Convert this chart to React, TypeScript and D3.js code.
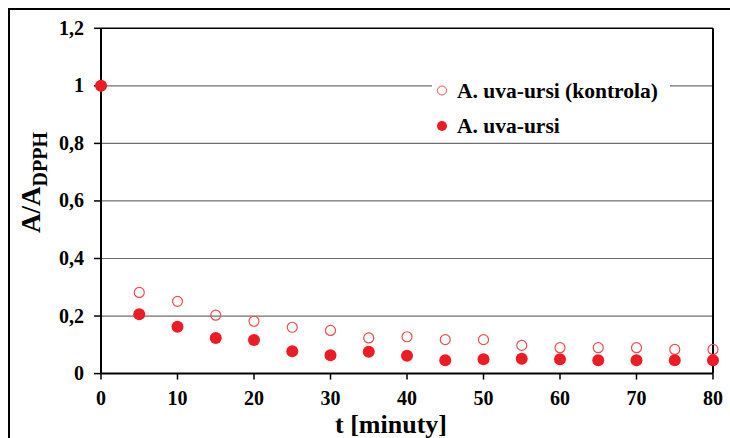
import React from "react";
import * as d3 from "d3";

const times = [0, 5, 10, 15, 20, 25, 30, 35, 40, 45, 50, 55, 60, 65, 70, 75, 80];
const kontrola = [1.0, 0.282, 0.251, 0.203, 0.182, 0.161, 0.150, 0.124, 0.128, 0.118, 0.118, 0.098, 0.090, 0.090, 0.090, 0.084, 0.084];
const uvaUrsi = [1.0, 0.206, 0.163, 0.124, 0.117, 0.078, 0.064, 0.076, 0.062, 0.046, 0.050, 0.052, 0.050, 0.046, 0.046, 0.046, 0.046];
const xTicks = [0, 10, 20, 30, 40, 50, 60, 70, 80];
const yTicks = [0, 0.2, 0.4, 0.6, 0.8, 1, 1.2];
const seriesNames = ["A. uva-ursi (kontrola)", "A. uva-ursi"];

const FAM = "'Liberation Serif'";
const RED = "#ed1c24";
const RED_OPEN = "#f04a4a";

function T(props: any) {
  const { children, ...rest } = props;
  return (
    <text fontWeight="bold" style={{ fontFamily: FAM }} {...rest}>
      {children}
    </text>
  );
}

export default function App() {
  const x = d3.scaleLinear().domain([0, 80]).range([101, 713]);
  const y = d3.scaleLinear().domain([0, 1.2]).range([373.6, 28.3]);
  const fmt = (v: number) => String(+v.toFixed(1)).replace(".", ",");

  return (
    <svg width={730} height={438} style={{ position: "absolute", left: 0, top: 0 }}>
      <rect x={0} y={0} width={730} height={438} fill="#fff" />
      <rect x={9} y={9} width={740} height={450} fill="none" stroke="#000" strokeWidth={2} />
      {yTicks.filter((t) => t > 0 && t < 1.2).map((t) => (
        <line key={t} x1={x(0)} x2={x(80)} y1={y(t)} y2={y(t)} stroke="#6e6e6e" strokeWidth={1.2} />
      ))}
      <line x1={x(0)} x2={x(80)} y1={y(1.2)} y2={y(1.2)} stroke="#000" strokeWidth={1.5} />
      <line x1={x(80)} x2={x(80)} y1={y(1.2)} y2={y(0)} stroke="#000" strokeWidth={2} />
      <line x1={x(0)} x2={x(0)} y1={y(1.2)} y2={y(0)} stroke="#000" strokeWidth={2} />
      <line x1={x(0)} x2={x(80)} y1={y(0)} y2={y(0)} stroke="#000" strokeWidth={2} />
      {yTicks.map((t) => (
        <g key={t}>
          <line x1={x(0) - 7} x2={x(0)} y1={y(t)} y2={y(t)} stroke="#000" strokeWidth={1.5} />
          <T x={84} y={y(t) + 6.5} textAnchor="end" fontSize={20}>{fmt(t)}</T>
        </g>
      ))}
      {xTicks.map((t) => (
        <g key={t}>
          <line x1={x(t)} x2={x(t)} y1={y(0)} y2={y(0) + 6} stroke="#000" strokeWidth={1.5} />
          <T x={x(t)} y={404.5} textAnchor="middle" fontSize={20}>{t}</T>
        </g>
      ))}
      <T x={391} y={433} textAnchor="middle" fontSize={26}>t [minuty]</T>
      <T transform="translate(40,182.5) rotate(-90)" textAnchor="middle" fontSize={27}>
        A/A<tspan fontSize={20} dy={6.5}>DPPH</tspan>
      </T>
      <rect x={432} y={74} width={238} height={64} fill="#fff" />
      <circle cx={442} cy={90.5} r={4.5} fill="#fff" stroke={RED_OPEN} strokeWidth={1} />
      <T x={457} y={97.5} fontSize={21.5}>{seriesNames[0]}</T>
      <circle cx={442} cy={126} r={5} fill={RED} />
      <T x={457} y={133} fontSize={21.5}>{seriesNames[1]}</T>
      {times.map((t, i) => (
        <circle key={"k" + t} cx={x(t)} cy={y(kontrola[i])} r={5} fill="none" stroke={RED_OPEN} strokeWidth={1.2} />
      ))}
      {times.map((t, i) => (
        <circle key={"u" + t} cx={x(t)} cy={y(uvaUrsi[i])} r={6} fill={RED} />
      ))}
    </svg>
  );
}
